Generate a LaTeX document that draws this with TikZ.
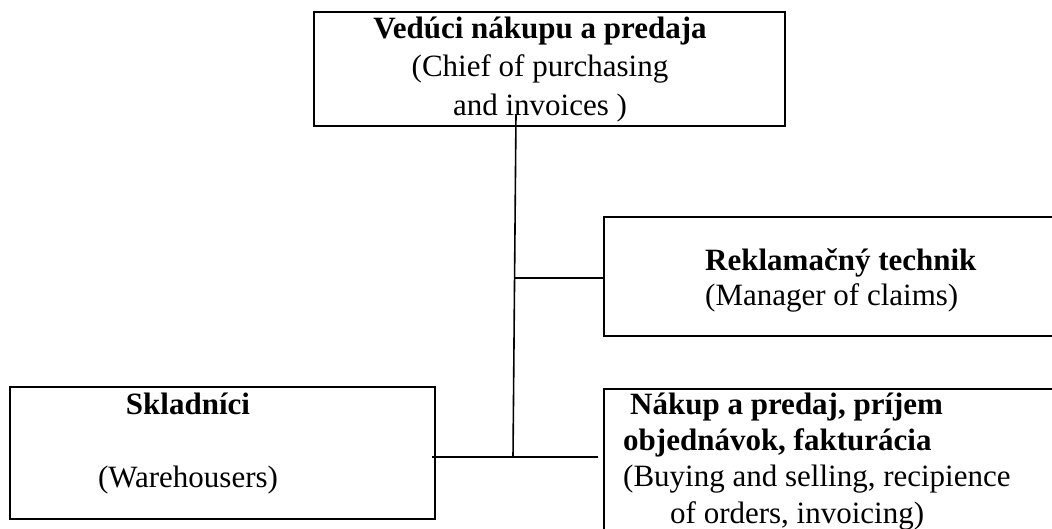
\documentclass[tikz,border=0pt]{standalone}
\usepackage{fontspec}
\setmainfont{Liberation Serif}
\usepackage{tikz}
\usetikzlibrary{positioning}

\begin{document}
\begin{tikzpicture}[
    x=1pt, y=-1pt,
    box/.style={draw, line width=2pt, inner sep=0pt, anchor=north west},
    txt/.style={font=\fontsize{31}{37}\selectfont, inner sep=0pt},
    link/.style={line width=1.6pt},
  ]
  \useasboundingbox (0,0) rectangle (1052,528);
  \clip (0,0) rectangle (1052,528);

  % Boxes
  \node[box, minimum width=471pt, minimum height=114pt] (chief) at (313,11) {};
  \node[box, minimum width=460pt, minimum height=119pt] (claims) at (603,216) {};
  \node[box, minimum width=425pt, minimum height=132pt] (stock) at (9,386) {};
  \node[box, minimum width=460pt, minimum height=160pt] (sales) at (603,388) {};

  % Texts (base = last line)
  \node[txt, font=\fontsize{31}{38.5}\selectfont, align=center, anchor=base] (chief-t) at (540,115)
    {\textbf{Vedúci nákupu a predaja}\\(Chief of purchasing\\and invoices )};
  \node[txt, font=\fontsize{31}{35}\selectfont, align=left, anchor=base west] (claims-t) at (705,305)
    {\textbf{Reklamačný technik}\\(Manager of claims)};
  \node[txt, align=center, anchor=base] (stock-t) at (188,487)
    {\textbf{Skladníci}\\[36pt](Warehousers)};
  \node[txt, font=\fontsize{31}{36.3}\selectfont, align=left, anchor=base west] (sales-t) at (623,523)
    {\hspace*{7pt}\textbf{Nákup a predaj, príjem}\\\textbf{objednávok, fakturácia}\\(Buying and selling, recipience\\\hspace*{47pt}of orders, invoicing)};

  % Lines
  \coordinate (trunktop) at (516,114);
  \coordinate (trunkbot) at (513,457);
  \coordinate (branch) at (514,278);
  \draw[link] (trunktop) -- (trunkbot);
  \draw[link] (branch) -- (branch -| claims.west);
  \draw[link, shorten <=-4pt, shorten >=5pt] (trunkbot -| stock.east) -- (trunkbot -| sales.west);
\end{tikzpicture}
\end{document}
